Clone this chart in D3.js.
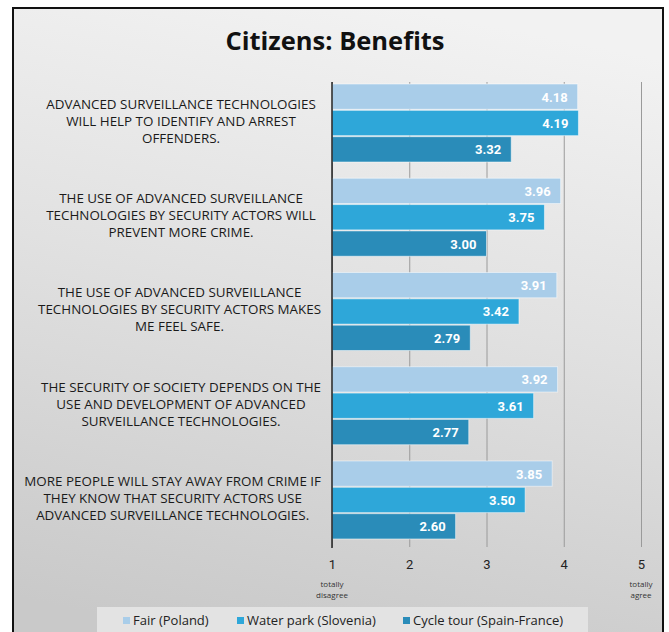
<!DOCTYPE html>
<html lang="en">
<head>
    <meta charset="utf-8">
    <title>Citizens: Benefits</title>
    <script src="https://cdn.jsdelivr.net/npm/d3@7"></script>
    <style type="text/css">
        body { margin: 0; background: white; }
        text { font-family: "Open Sans", Roboto, sans-serif; }
        text.value { font-family: Roboto, sans-serif; font-size: 13px; font-weight: bold; fill: white; }
        text.cat { font-size: 13.4px; fill: #1a1a1a; }
    </style>
</head>
<body>
<script type="text/javascript">

    var categories = [
        ["ADVANCED SURVEILLANCE TECHNOLOGIES", "WILL HELP TO IDENTIFY AND ARREST", "OFFENDERS."],
        ["THE USE OF ADVANCED SURVEILLANCE", "TECHNOLOGIES BY SECURITY ACTORS WILL", "PREVENT MORE CRIME."],
        ["THE USE OF ADVANCED SURVEILLANCE", "TECHNOLOGIES BY SECURITY ACTORS MAKES", "ME FEEL SAFE."],
        ["THE SECURITY OF SOCIETY DEPENDS ON THE", "USE AND DEVELOPMENT OF ADVANCED", "SURVEILLANCE TECHNOLOGIES."],
        ["MORE PEOPLE WILL STAY AWAY FROM CRIME IF", "THEY KNOW THAT SECURITY ACTORS USE", "ADVANCED SURVEILLANCE TECHNOLOGIES."]
    ];
    var seriesNames = ["Fair (Poland)", "Water park (Slovenia)", "Cycle tour (Spain-France)"];
    var fair = [4.18, 3.96, 3.91, 3.92, 3.85];
    var waterPark = [4.19, 3.75, 3.42, 3.61, 3.50];
    var cycleTour = [3.32, 3.00, 2.79, 2.77, 2.60];
    var colors = ["#a9cde9", "#2ea7d9", "#2a8cb9"];
    var ticks = [1, 2, 3, 4, 5];

    var w = 669, h = 632;
    var series = [fair, waterPark, cycleTour];

    var svg = d3.select("body").append("svg")
        .attr("width", w)
        .attr("height", h);

    var defs = svg.append("defs");
    var grad = defs.append("linearGradient")
        .attr("id", "bg")
        .attr("x1", 0.6).attr("y1", 0).attr("x2", 0.4).attr("y2", 1);
    grad.append("stop").attr("offset", "0%").attr("stop-color", "#f2f2f2");
    grad.append("stop").attr("offset", "45%").attr("stop-color", "#e1e1e1");
    grad.append("stop").attr("offset", "100%").attr("stop-color", "#c9c9c9");

    // slide frame
    svg.append("rect")
        .attr("x", 13).attr("y", 8)
        .attr("width", 650).attr("height", 640)
        .attr("fill", "url(#bg)")
        .attr("stroke", "#111")
        .attr("stroke-width", 2);

    svg.append("text")
        .attr("x", 335).attr("y", 50)
        .attr("text-anchor", "middle")
        .style("font-size", "25.5px")
        .style("font-weight", "bold")
        .style("fill", "#111")
        .text("Citizens: Benefits");

    var x = d3.scaleLinear().domain([1, 5]).range([332, 641]);
    var y0 = d3.scaleBand().domain(d3.range(categories.length)).range([84, 539]).paddingInner(0.172).paddingOuter(0);
    var y1 = d3.scaleBand().domain(d3.range(series.length)).range([0, 78]).paddingInner(0.04);

    // gridlines + tick labels
    var xAxis = d3.axisBottom(x).tickValues(ticks).tickSize(-465).tickPadding(13).tickFormat(d3.format("d"));
    var ax = svg.append("g")
        .attr("transform", "translate(0,547)")
        .call(xAxis);
    ax.select(".domain").remove();
    ax.selectAll(".tick line").attr("stroke", "#9a9a9a").attr("stroke-width", 1);
    ax.selectAll(".tick text")
        .style("font-size", "13px")
        .style("fill", "#222")
        .style("font-family", "Roboto, sans-serif");

    // groups
    var groups = svg.selectAll("g.grp")
        .data(categories)
        .enter()
        .append("g")
        .attr("class", "grp")
        .attr("transform", function (d, i) { return "translate(0," + y0(i) + ")"; });

    groups.each(function (cat, ci) {
        var g = d3.select(this);
        series.forEach(function (s, si) {
            g.append("rect")
                .attr("x", x(1))
                .attr("y", y1(si))
                .attr("width", x(s[ci]) - x(1))
                .attr("height", y1.bandwidth())
                .attr("fill", colors[si])
                .attr("stroke", "rgba(255,255,255,0.5)")
                .attr("stroke-width", 1);
            g.append("text")
                .attr("class", "value")
                .attr("x", x(s[ci]) - 10)
                .attr("y", y1(si) + y1.bandwidth() / 2 + 5)
                .attr("text-anchor", "end")
                .text(s[ci].toFixed(2));
        });
        var t = g.append("text")
            .attr("class", "cat")
            .attr("text-anchor", "middle")
            .attr("y", 25);
        var spans = t.selectAll("tspan")
            .data(cat)
            .enter()
            .append("tspan")
            .attr("dy", function (d, li) { return li ? 17 : 0; })
            .text(function (d) { return d; });
        // keep the widest line clear of the axis
        var maxW = d3.max(spans.nodes(), function (n) { return n.getComputedTextLength(); });
        var cx = Math.min(181, 321 - maxW / 2);
        spans.attr("x", cx);
    });

    // axis line at 1
    svg.append("line")
        .attr("x1", x(1)).attr("x2", x(1))
        .attr("y1", 82).attr("y2", 548)
        .attr("stroke", "#222").attr("stroke-width", 1.5);

    // end labels
    var ends = [[1, ["totally", "disagree"]], [5, ["totally", "agree"]]];
    ends.forEach(function (e) {
        var t = svg.append("text")
            .attr("text-anchor", "middle")
            .attr("x", x(e[0]))
            .attr("y", 587)
            .style("font-size", "8px")
            .style("fill", "#333");
        e[1].forEach(function (line, li) {
            t.append("tspan").attr("x", x(e[0])).attr("dy", li ? 11 : 0).text(line);
        });
    });

    // legend
    svg.append("rect")
        .attr("x", 97).attr("y", 607)
        .attr("width", 491).attr("height", 30)
        .attr("fill", "#e3e3e3");
    var legX = [123, 237, 403];
    var leg = svg.selectAll("g.leg")
        .data(seriesNames)
        .enter()
        .append("g")
        .attr("class", "leg")
        .attr("transform", function (d, i) { return "translate(" + legX[i] + ",625)"; });
    leg.append("rect")
        .attr("x", 0).attr("y", -8)
        .attr("width", 7).attr("height", 7)
        .attr("fill", function (d, i) { return colors[i]; });
    leg.append("text")
        .attr("x", 10).attr("y", 0)
        .style("font-size", "13px")
        .style("fill", "#222")
        .text(function (d) { return d; });

</script>
</body>
</html>
